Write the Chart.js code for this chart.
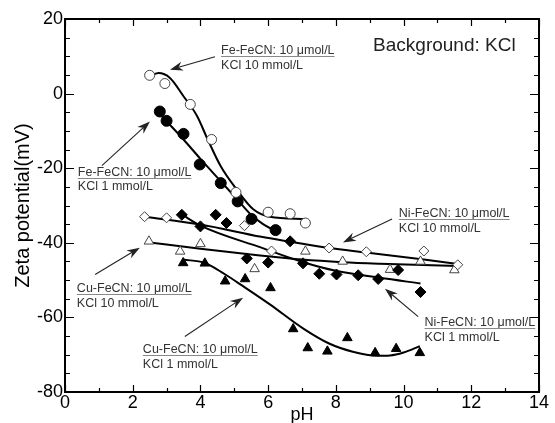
<!DOCTYPE html>
<html>
<head>
<meta charset="utf-8">
<script src="https://cdn.jsdelivr.net/npm/chart.js@4.4.1/dist/chart.umd.min.js"></script>
<style>
  html, body { margin: 0; padding: 0; background: #fff; }
</style>
</head>
<body>
<canvas id="chart" width="555" height="423"></canvas>
<script>
// ── Data ──────────────────────────────────────────────────────────────────────

const xTicks = [0, 2, 4, 6, 8, 10, 12, 14];
const yTicks = [-80, -60, -40, -20, 0, 20];

// Fe-FeCN, KCl 10 mmol/L (open circles)
const feK10X = [2.5, 2.95, 3.7, 4.33, 5.05, 6.0, 6.65, 7.1];
const feK10Y = [4.9, 2.7, -2.9, -12.3, -26.5, -31.8, -32.2, -34.7];
const feK10FitX = [2.46, 2.76, 3.1, 3.5, 3.9, 4.2, 4.6, 5.07, 5.56, 6.05, 7.1];
const feK10FitY = [4.4, 5.5, 4.2, -0.7, -6, -12, -19.5, -25.7, -31, -33, -33.6];

// Fe-FeCN, KCl 1 mmol/L (filled circles)
const feK1X = [2.8, 3.0, 3.5, 3.98, 4.6, 5.1, 5.51, 6.22];
const feK1Y = [-4.8, -7.3, -10.8, -19, -24, -28.9, -33.6, -36.6];
const feK1FitX = [2.8, 3.5, 4.0, 4.6, 5.1, 5.5, 5.85, 6.25];
const feK1FitY = [-5.5, -12.3, -17.5, -23.5, -28.5, -32.5, -35, -37];

// Ni-FeCN, KCl 10 mmol/L (open diamonds)
const niK10X = [2.35, 3.0, 5.3, 6.1, 7.8, 8.9, 10.6, 11.6];
const niK10Y = [-33, -33.3, -35.4, -42.2, -41.4, -42.4, -42.2, -45.9];
const niK10FitX = [2.36, 4.0, 5.8, 6.65, 7.8, 8.9, 10.6, 11.6];
const niK10FitY = [-33, -35.1, -38.4, -39.7, -41.4, -42.6, -44.5, -45.7];

// Ni-FeCN, KCl 1 mmol/L (filled diamonds)
const niK1X = [3.45, 4.0, 4.45, 4.77, 5.37, 6.0, 6.65, 7.03, 7.51, 8.02, 8.66, 9.25, 9.84, 10.5];
const niK1Y = [-32.5, -35.6, -32.5, -34.7, -44.2, -45.3, -39.6, -45.5, -48.3, -48.5, -48.7, -49.7, -47.3, -53.2];
const niK1FitX = [3.45, 4.0, 5.8, 7.04, 8.0, 9.3, 10.5];
const niK1FitY = [-32.4, -35.4, -41.3, -45.2, -47.5, -49.4, -50.9];

// Cu-FeCN, KCl 10 mmol/L (open triangles)
const cuK10X = [2.48, 3.4, 4.0, 5.6, 7.1, 8.2, 9.6, 10.5, 11.5];
const cuK10Y = [-39.6, -42.3, -40.3, -47, -42.3, -45, -47.2, -45, -47.3];
const cuK10FitX = [2.5, 4.0, 5.76, 7.0, 8.2, 9.3, 11.6];
const cuK10FitY = [-39.9, -41.6, -43.4, -44.5, -45.2, -45.6, -46.2];

// Cu-FeCN, KCl 1 mmol/L (filled triangles)
const cuK1X = [3.49, 4.13, 4.73, 5.32, 6.07, 6.74, 7.17, 7.75, 8.34, 9.16, 9.78, 10.48];
const cuK1Y = [-45.4, -45.5, -50.3, -49.7, -52.1, -63.1, -68.2, -69.1, -65.5, -69.5, -68.4, -69.5];
const cuK1FitX = [3.49, 4.13, 4.7, 5.27, 6.05, 7.04, 7.8, 8.5, 9.2, 9.6, 10.0, 10.48];
const cuK1FitY = [-44.5, -45.4, -48.3, -51.7, -56.5, -63, -67, -69.2, -70.3, -70.2, -69.4, -67.7];

// Annotations (data coordinates): label position, second line, arrow tail -> head
const notes = [
    { x: 4.61, y: 10.5, line2Y: 6.5,   text: ['Fe-FeCN: 10 \u03bcmol/L', 'KCl 10 mmol/L'], arrow: [4.43, 9.9, 3.1, 6.4] },
    { x: 0.38, y: -22,  line2Y: -25.8, text: ['Fe-FeCN: 10 \u03bcmol/L', 'KCl 1 mmol/L'],  arrow: [1.09, -19.3, 2.51, -7.5] },
    { x: 9.86, y: -33.2, line2Y: -37.2, text: ['Ni-FeCN: 10 \u03bcmol/L', 'KCl 10 mmol/L'], arrow: [9.66, -33.6, 8.21, -39.9] },
    { x: 10.62, y: -62.2, line2Y: -66.2, text: ['Ni-FeCN: 10 \u03bcmol/L', 'KCl 1 mmol/L'], arrow: [10.43, -59.8, 9.45, -52.3] },
    { x: 0.35, y: -53.1, line2Y: -57.1, text: ['Cu-FeCN: 10 \u03bcmol/L', 'KCl 10 mmol/L'], arrow: [0.89, -48.5, 2.21, -41.3] },
    { x: 2.3,  y: -69.6, line2Y: -73.6, text: ['Cu-FeCN: 10 \u03bcmol/L', 'KCl 1 mmol/L'],  arrow: [3.54, -65.1, 5.26, -54.7] }
];
const bgLabel = { x: 9.1, y: 11.5, text: 'Background: KCl' };

// ── Helpers ───────────────────────────────────────────────────────────────────

const FONT = '"Liberation Sans", Arial, sans-serif';

function pts(xs, ys) {
    return xs.map((x, i) => ({ x, y: ys[i] }));
}

function markers(xs, ys, style, filled, radius) {
    return {
        data: pts(xs, ys),
        showLine: false,
        pointStyle: style,
        pointRadius: radius,
        pointHoverRadius: radius,
        pointBackgroundColor: filled ? '#000' : '#fff',
        pointBorderColor: filled ? '#000' : '#444',
        pointBorderWidth: 1,
        order: 1
    };
}

function fit(xs, ys) {
    return {
        data: pts(xs, ys),
        showLine: true,
        pointRadius: 0,
        borderColor: '#000',
        borderWidth: 2,
        cubicInterpolationMode: 'monotone',
        order: 2
    };
}

// ── Plugin: inward ticks, frame, annotations ─────────────────────────────────

const decorPlugin = {
    id: 'decor',
    afterDatasetsDraw(chart) {
        const { ctx, chartArea: a, scales: { x, y } } = chart;
        ctx.save();
        ctx.strokeStyle = '#000';
        ctx.lineWidth = 1.2;
        ctx.beginPath();
        for (let v = xTicks[0]; v <= xTicks[xTicks.length - 1]; v++) {
            const px = Math.round(x.getPixelForValue(v)) + 0.5;
            const len = v % 2 ? 4 : 7;
            ctx.moveTo(px, a.bottom); ctx.lineTo(px, a.bottom - len);
            ctx.moveTo(px, a.top);    ctx.lineTo(px, a.top + len);
        }
        for (let v = yTicks[0]; v <= yTicks[yTicks.length - 1]; v += 5) {
            const py = Math.round(y.getPixelForValue(v)) + 0.5;
            const len = v % 20 ? 5 : 9;
            ctx.moveTo(a.left, py);  ctx.lineTo(a.left + len, py);
            ctx.moveTo(a.right, py); ctx.lineTo(a.right - len, py);
        }
        ctx.stroke();
        ctx.lineWidth = 2;
        ctx.strokeRect(a.left, a.top, a.width, a.height);

        // annotations
        ctx.font = `12.5px ${FONT}`;
        ctx.textBaseline = 'alphabetic';
        ctx.textAlign = 'left';
        notes.forEach(n => {
            const tx = x.getPixelForValue(n.x);
            const ty = y.getPixelForValue(n.y);
            ctx.fillStyle = '#333';
            ctx.fillText(n.text[0], tx, ty);
            ctx.fillText(n.text[1], tx, y.getPixelForValue(n.line2Y));
            const w = ctx.measureText(n.text[0]).width;
            ctx.strokeStyle = '#888';
            ctx.lineWidth = 1;
            ctx.beginPath();
            ctx.moveTo(tx, Math.round(ty) + 2.5);
            ctx.lineTo(tx + w, Math.round(ty) + 2.5);
            ctx.stroke();
            drawArrow(ctx,
                x.getPixelForValue(n.arrow[0]), y.getPixelForValue(n.arrow[1]),
                x.getPixelForValue(n.arrow[2]), y.getPixelForValue(n.arrow[3]));
        });

        ctx.font = `19px ${FONT}`;
        ctx.fillStyle = '#222';
        ctx.fillText(bgLabel.text, x.getPixelForValue(bgLabel.x), y.getPixelForValue(bgLabel.y));
        ctx.restore();
    }
};

function drawArrow(ctx, x1, y1, x2, y2) {
    const ang = Math.atan2(y2 - y1, x2 - x1);
    const len = 13, half = 4.5, notch = 9;
    ctx.strokeStyle = '#222';
    ctx.fillStyle = '#222';
    ctx.lineWidth = 1.1;
    ctx.beginPath();
    ctx.moveTo(x1, y1);
    ctx.lineTo(x2 - Math.cos(ang) * notch, y2 - Math.sin(ang) * notch);
    ctx.stroke();
    const bx = x2 - Math.cos(ang) * len, by = y2 - Math.sin(ang) * len;
    const nx = -Math.sin(ang), ny = Math.cos(ang);
    ctx.beginPath();
    ctx.moveTo(x2, y2);
    ctx.lineTo(bx + nx * half, by + ny * half);
    ctx.lineTo(x2 - Math.cos(ang) * notch, y2 - Math.sin(ang) * notch);
    ctx.lineTo(bx - nx * half, by - ny * half);
    ctx.closePath();
    ctx.fill();
}

// ── Chart ─────────────────────────────────────────────────────────────────────

new Chart(document.getElementById('chart').getContext('2d'), {
    type: 'scatter',
    data: {
        datasets: [
            markers(feK10X, feK10Y, 'circle', false, 5),
            markers(feK1X, feK1Y, 'circle', true, 5.5),
            markers(niK10X, niK10Y, 'rectRot', false, 5),
            markers(niK1X, niK1Y, 'rectRot', true, 5.5),
            markers(cuK10X, cuK10Y, 'triangle', false, 5.5),
            markers(cuK1X, cuK1Y, 'triangle', true, 5.5),
            fit(feK10FitX, feK10FitY),
            fit(feK1FitX, feK1FitY),
            fit(niK10FitX, niK10FitY),
            fit(niK1FitX, niK1FitY),
            fit(cuK10FitX, cuK10FitY),
            fit(cuK1FitX, cuK1FitY)
        ]
    },
    options: {
        responsive: false,
        animation: false,
        devicePixelRatio: 1,
        layout: { padding: { top: 19, right: 16, left: 0, bottom: 0 } },
        plugins: { legend: { display: false }, tooltip: { enabled: false } },
        scales: {
            x: {
                type: 'linear',
                min: xTicks[0], max: xTicks[xTicks.length - 1],
                afterBuildTicks: s => { s.ticks = xTicks.map(v => ({ value: v })); },
                afterFit: s => { s.height = 31; },
                grid: { display: false, drawTicks: false },
                border: { display: false },
                ticks: { padding: 0, color: '#000', font: { family: FONT, size: 18 } },
                title: { display: true, text: 'pH', color: '#000', padding: { top: 0, bottom: -3 },
                         font: { family: FONT, size: 18 } }
            },
            y: {
                type: 'linear',
                min: yTicks[0], max: yTicks[yTicks.length - 1],
                afterBuildTicks: s => { s.ticks = yTicks.map(v => ({ value: v })); },
                afterFit: s => { s.width = 65; },
                grid: { display: false, drawTicks: false },
                border: { display: false },
                ticks: { padding: 2, color: '#000', font: { family: FONT, size: 18 } },
                title: { display: true, text: 'Zeta potential(mV)', color: '#000',
                         padding: { top: 11, bottom: 0 }, font: { family: FONT, size: 20 } }
            }
        }
    },
    plugins: [decorPlugin]
});
</script>
</body>
</html>
